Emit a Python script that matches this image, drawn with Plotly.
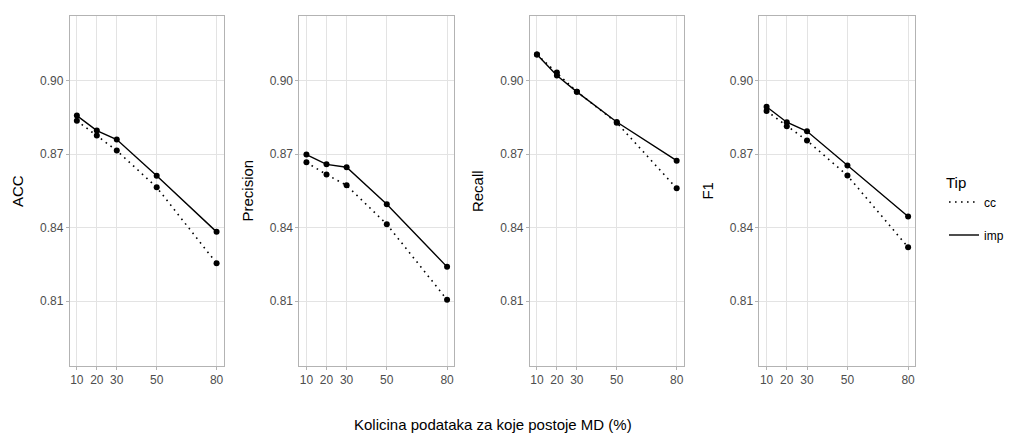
import plotly.graph_objects as go

W, H = 1009, 436

pct = [10, 20, 30, 50, 80]
metrics = ["ACC", "Precision", "Recall", "F1"]

acc_cc = [0.8837, 0.8777, 0.8715, 0.8565, 0.8255]
acc_imp = [0.8858, 0.8797, 0.8760, 0.8612, 0.8383]
prec_cc = [0.8667, 0.8617, 0.8573, 0.8414, 0.8106]
prec_imp = [0.8699, 0.8659, 0.8647, 0.8496, 0.8240]
rec_cc = [0.9108, 0.9034, 0.8956, 0.8829, 0.8561]
rec_imp = [0.9108, 0.9022, 0.8955, 0.8832, 0.8674]
f1_cc = [0.8877, 0.8815, 0.8756, 0.8613, 0.8320]
f1_imp = [0.8894, 0.8831, 0.8794, 0.8654, 0.8446]

series = {
    "ACC": (acc_cc, acc_imp),
    "Precision": (prec_cc, prec_imp),
    "Recall": (rec_cc, rec_imp),
    "F1": (f1_cc, f1_imp),
}

yticks = [0.81, 0.84, 0.87, 0.90]
ytick_text = ["0.81", "0.84", "0.87", "0.90"]
xticks = [10, 20, 30, 50, 80]

panels_px = [(70, 224), (300, 455), (531, 685), (761, 917)]
y_top, y_bot = 16, 366
ydom = [1 - y_bot / H, 1 - y_top / H]

DOT = "1.6px,4.4px"

fig = go.Figure()
layout = dict(
    width=W, height=H,
    margin=dict(l=0, r=0, t=0, b=0),
    paper_bgcolor="white", plot_bgcolor="white",
    font=dict(family="Liberation Sans, Arial, sans-serif", color="black"),
    showlegend=True,
)

grid = "#e3e3e3"
border = "#b3b3b3"
tickc = "#4d4d4d"

annotations = []
for i, (m, (xl, xr)) in enumerate(zip(metrics, panels_px)):
    k = "" if i == 0 else str(i + 1)
    cc, imp = series[m]
    fig.add_trace(go.Scatter(
        x=pct, y=cc, mode="lines+markers", xaxis="x" + k, yaxis="y" + k,
        line=dict(color="black", width=1.6, dash=DOT),
        marker=dict(color="black", size=6), showlegend=False, hoverinfo="skip"))
    fig.add_trace(go.Scatter(
        x=pct, y=imp, mode="lines+markers", xaxis="x" + k, yaxis="y" + k,
        line=dict(color="black", width=1.4),
        marker=dict(color="black", size=6), showlegend=False, hoverinfo="skip"))
    layout["xaxis" + k] = dict(
        domain=[xl / W, xr / W], anchor="y" + k, range=[6.5, 83.5],
        tickvals=xticks, ticktext=[str(v) for v in xticks],
        showgrid=True, gridcolor=grid, gridwidth=1, zeroline=False,
        showline=True, linecolor=border, linewidth=1, mirror=True,
        ticks="outside", ticklen=3, tickcolor=border,
        tickfont=dict(size=12, color=tickc),
    )
    layout["yaxis" + k] = dict(
        domain=ydom, anchor="x" + k, range=[0.7835, 0.9265],
        tickvals=yticks, ticktext=ytick_text,
        showgrid=True, gridcolor=grid, gridwidth=1, zeroline=False,
        showline=True, linecolor=border, linewidth=1, mirror=True,
        ticks="outside", ticklen=3, tickcolor=border,
        tickfont=dict(size=12, color=tickc),
    )
    annotations.append(dict(
        text=m, textangle=-90, xref="paper", yref="paper",
        x=(xl - 53) / W, y=(ydom[0] + ydom[1]) / 2,
        xanchor="center", yanchor="middle", showarrow=False,
        font=dict(size=15, color="black")))

annotations.append(dict(
    text="Kolicina podataka za koje postoje MD (%)", xref="paper", yref="paper",
    x=494 / W, y=1 - 424 / H, xanchor="center", yanchor="middle",
    showarrow=False, font=dict(size=15, color="black")))

# legend-only traces
fig.add_trace(go.Scatter(x=[None], y=[None], mode="lines", name="cc",
                         legendgroup="cc",
                         line=dict(color="black", width=1.6, dash=DOT)))
fig.add_trace(go.Scatter(x=[None], y=[None], mode="lines", name="imp",
                         legendgroup="imp",
                         line=dict(color="black", width=1.4)))

layout["legend"] = dict(
    x=946 / W, y=1 - 168 / H, xanchor="left", yanchor="top",
    title=dict(text="Tip", font=dict(size=15, color="black")),
    font=dict(size=12, color="black"), itemwidth=30, tracegroupgap=14,
    bgcolor="rgba(0,0,0,0)")
layout["annotations"] = annotations
fig.update_layout(**layout)

fig.write_html("out.html")
